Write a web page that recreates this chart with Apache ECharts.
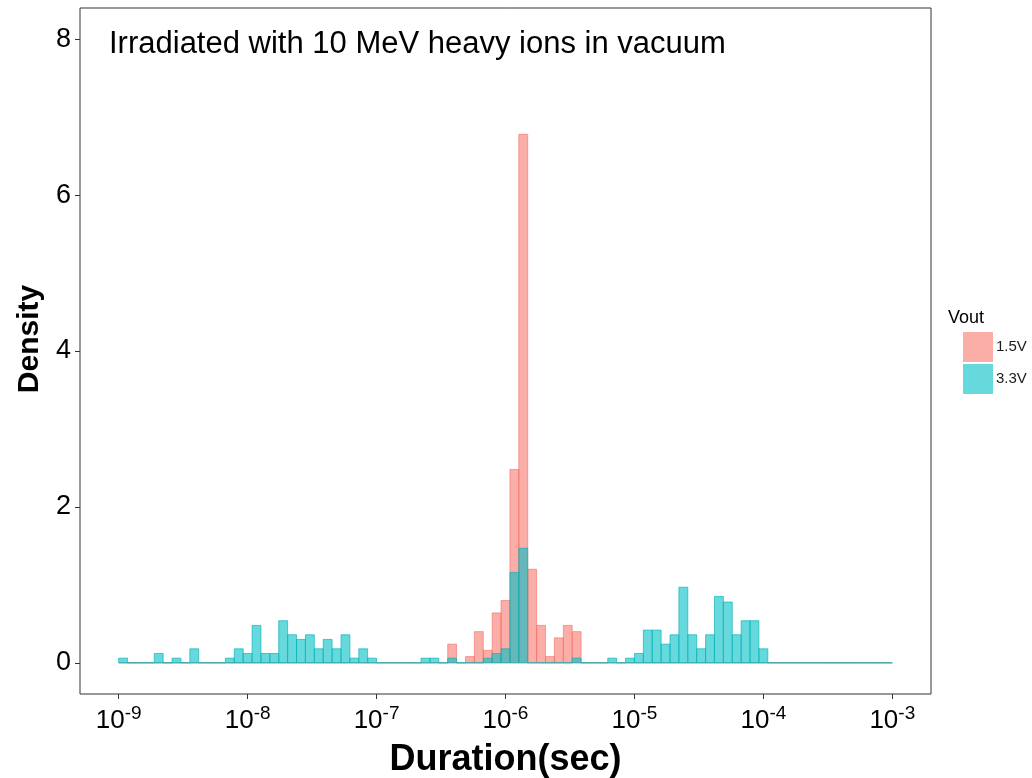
<!DOCTYPE html>
<html>
<head>
<meta charset="utf-8">
<script src="https://cdn.jsdelivr.net/npm/echarts@6/dist/echarts.min.js"></script>
<style>
  html, body { margin: 0; padding: 0; background: #fff; }
  #chart { width: 1032px; height: 778px; }
</style>
</head>
<body>
<div id="chart"></div>
<script>
// Histogram of pulse durations, log10 bins from 1e-9 s to 1e-3 s
const binStart = -9;          // log10 of the first bin edge
const binCount = 87;          // bins across six decades
const binWidth = 6 / binCount;

// Density per bin: [bin index, density]; bins not listed are empty
const bins15V = [
  [37, 0.24], [39, 0.08], [40, 0.40], [41, 0.16], [42, 0.64], [43, 0.80],
  [44, 2.48], [45, 6.78], [46, 1.20], [47, 0.48], [48, 0.08], [49, 0.32],
  [50, 0.48], [51, 0.40]
];
const bins33V = [
  [0, 0.06], [4, 0.12], [6, 0.06], [8, 0.18], [12, 0.06], [13, 0.18],
  [14, 0.12], [15, 0.48], [16, 0.12], [17, 0.12], [18, 0.54], [19, 0.36],
  [20, 0.30], [21, 0.36], [22, 0.18], [23, 0.30], [24, 0.18], [25, 0.36],
  [26, 0.06], [27, 0.18], [28, 0.06],
  [34, 0.06], [35, 0.06], [37, 0.06], [41, 0.06], [42, 0.12], [43, 0.18],
  [44, 1.16], [45, 1.47], [51, 0.06],
  [55, 0.06], [57, 0.06], [58, 0.12], [59, 0.42], [60, 0.42], [61, 0.24],
  [62, 0.36], [63, 0.97], [64, 0.36], [65, 0.18], [66, 0.36], [67, 0.85],
  [68, 0.78], [69, 0.36], [70, 0.54], [71, 0.54], [72, 0.18]
];

const xTickExponents = [-9, -8, -7, -6, -5, -4, -3];
const yTicks = [0, 2, 4, 6, 8];
const seriesNames = ['1.5V', '3.3V'];
const titleText = 'Irradiated with 10 MeV heavy ions in vacuum';

// Expand the sparse lists into one row per bin: [left edge, right edge, density]
function toRows(list) {
  const lookup = new Map(list.map(d => [d[0], d[1]]));
  const rows = [];
  for (let k = 0; k < binCount; k++) {
    rows.push([binStart + k * binWidth, binStart + (k + 1) * binWidth, lookup.get(k) || 0]);
  }
  return rows;
}

const FONT = '"Liberation Sans", Arial, sans-serif';
const fills = ['rgba(248,118,109,0.6)', 'rgba(0,191,196,0.6)'];
const strokes = ['rgba(240,105,96,0.7)', 'rgba(0,178,184,0.8)'];

function barSeries(name, rows, idx) {
  return {
    name: name,
    type: 'custom',
    data: rows,
    encode: { x: [0, 1], y: 2 },
    itemStyle: { color: fills[idx], borderColor: strokes[idx] },
    renderItem: function (params, api) {
      const p0 = api.coord([api.value(0), 0]);
      const p1 = api.coord([api.value(1), api.value(2)]);
      return {
        type: 'rect',
        shape: { x: p0[0], y: p1[1], width: p1[0] - p0[0], height: p0[1] - p1[1] },
        style: { fill: fills[idx], stroke: strokes[idx], lineWidth: 0.8 }
      };
    },
    z: 2 + idx
  };
}

const chart = echarts.init(document.getElementById('chart'), null, { renderer: 'canvas' });
chart.setOption({
  animation: false,
  backgroundColor: '#fff',
  textStyle: { fontFamily: FONT },
  title: {
    text: titleText,
    left: 104,
    top: 24,
    textStyle: { fontFamily: FONT, fontSize: 31, fontWeight: 'normal', color: '#000' }
  },
  grid: {
    left: 80, right: 101, top: 8, bottom: 84,
    outerBoundsMode: 'none',
    containLabel: false,
    show: true, borderColor: '#333', borderWidth: 1, backgroundColor: '#fff'
  },
  legend: {
    orient: 'vertical',
    left: 963, top: 332,
    padding: 0,
    itemWidth: 30, itemHeight: 30, itemGap: 2,
    icon: 'rect',
    data: seriesNames,
    textStyle: { fontFamily: FONT, fontSize: 15, color: '#1a1a1a', padding: [0, 0, 0, -2] }
  },
  graphic: [{
    type: 'text',
    left: 948, top: 309,
    style: { text: 'Vout', fontFamily: FONT, fontSize: 18, fill: '#000' }
  }],
  xAxis: {
    type: 'value',
    min: -9.3, max: -2.7,
    name: 'Duration(sec)',
    nameLocation: 'middle',
    nameGap: 48,
    nameTextStyle: { fontFamily: FONT, fontSize: 36, fontWeight: 'bold', color: '#000' },
    axisLine: { show: false, onZero: false },
    splitLine: { show: false },
    axisTick: { show: true, length: 5, customValues: xTickExponents, lineStyle: { color: '#333' } },
    axisLabel: {
      customValues: xTickExponents,
      margin: 10,
      formatter: v => '{b|10}{s|' + v + '}',
      rich: {
        b: { fontFamily: FONT, fontSize: 26, color: '#000', lineHeight: 30, verticalAlign: 'bottom' },
        s: { fontFamily: FONT, fontSize: 19, color: '#000', lineHeight: 30, verticalAlign: 'top', padding: [0, 0, 10, 0] }
      }
    }
  },
  yAxis: {
    type: 'value',
    min: -0.4, max: 8.4,
    name: 'Density',
    nameLocation: 'middle',
    nameRotate: 90,
    nameGap: 34,
    nameTextStyle: { fontFamily: FONT, fontSize: 30, fontWeight: 'bold', color: '#000', padding: [0, 0, 0, 24] },
    axisLine: { show: false, onZero: false },
    splitLine: { show: false },
    axisTick: { show: true, length: 5, customValues: yTicks, lineStyle: { color: '#333' } },
    axisLabel: {
      customValues: yTicks,
      margin: 9,
      fontFamily: FONT, fontSize: 27, color: '#000'
    }
  },
  series: [
    barSeries(seriesNames[0], toRows(bins15V), 0),
    barSeries(seriesNames[1], toRows(bins33V), 1)
  ]
});
</script>
</body>
</html>
